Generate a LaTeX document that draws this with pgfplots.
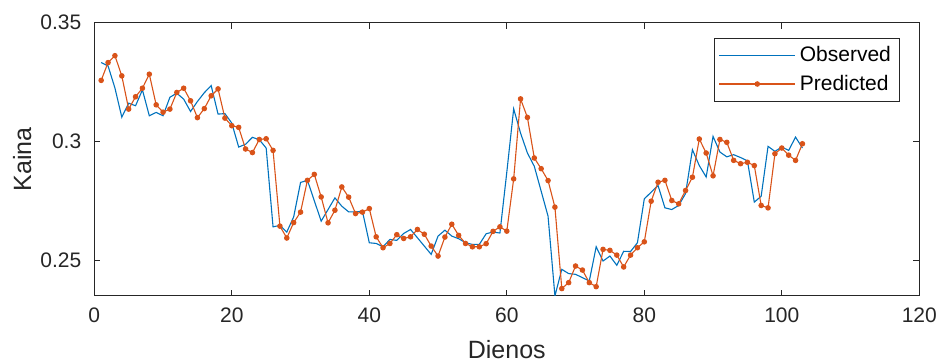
\documentclass[border=0pt]{standalone}
\usepackage{fontspec}
\setmainfont{Liberation Sans}
\usepackage{pgfplots}
\pgfplotsset{compat=1.18}
\usepackage{pgfplotstable}
\usetikzlibrary{calc}
\definecolor{mblue}{rgb}{0,0.447,0.741}
\definecolor{morange}{rgb}{0.85,0.325,0.098}
\definecolor{axgray}{rgb}{0.15,0.15,0.15}

\pgfplotstableread{
x obs pred
1 0.3332 0.3257
2 0.3318 0.3332
3 0.3225 0.3361
4 0.3102 0.3276
5 0.3161 0.3136
6 0.3150 0.3188
7 0.3217 0.3224
8 0.3108 0.3283
9 0.3122 0.3154
10 0.3108 0.3123
11 0.3186 0.3136
12 0.3203 0.3206
13 0.3178 0.3224
14 0.3126 0.3171
15 0.3168 0.3100
16 0.3205 0.3138
17 0.3235 0.3192
18 0.3115 0.3221
19 0.3117 0.3098
20 0.3077 0.3066
21 0.2976 0.3059
22 0.2988 0.2968
23 0.3017 0.2953
24 0.3007 0.3008
25 0.2972 0.3011
26 0.2640 0.2962
27 0.2646 0.2643
28 0.2618 0.2593
29 0.2682 0.2658
30 0.2827 0.2702
31 0.2836 0.2836
32 0.2750 0.2861
33 0.2664 0.2766
34 0.2713 0.2657
35 0.2762 0.2710
36 0.2727 0.2808
37 0.2703 0.2765
38 0.2703 0.2696
39 0.2706 0.2702
40 0.2573 0.2717
41 0.2570 0.2598
42 0.2556 0.2552
43 0.2587 0.2570
44 0.2583 0.2607
45 0.2612 0.2591
46 0.2629 0.2598
47 0.2594 0.2629
48 0.2559 0.2609
49 0.2524 0.2559
50 0.2601 0.2517
51 0.2626 0.2597
52 0.2601 0.2651
53 0.2590 0.2604
54 0.2573 0.2570
55 0.2566 0.2556
56 0.2566 0.2556
57 0.2611 0.2569
58 0.2618 0.2621
59 0.2614 0.2640
60 0.2870 0.2622
61 0.3137 0.2842
62 0.3035 0.3179
63 0.2951 0.3101
64 0.2895 0.2930
65 0.2790 0.2885
66 0.2685 0.2835
67 0.2349 0.2723
68 0.2461 0.2380
69 0.2443 0.2405
70 0.2440 0.2475
71 0.2426 0.2458
72 0.2412 0.2405
73 0.2556 0.2388
74 0.2496 0.2545
75 0.2517 0.2541
76 0.2478 0.2521
77 0.2537 0.2471
78 0.2536 0.2521
79 0.2573 0.2552
80 0.2758 0.2577
81 0.2786 0.2748
82 0.2814 0.2828
83 0.2720 0.2836
84 0.2713 0.2751
85 0.2730 0.2737
86 0.2780 0.2793
87 0.2965 0.2849
88 0.2898 0.3010
89 0.2850 0.2951
90 0.3021 0.2855
91 0.2955 0.3008
92 0.2935 0.2996
93 0.2944 0.2920
94 0.2932 0.2906
95 0.2918 0.2912
96 0.2744 0.2898
97 0.2769 0.2730
98 0.2979 0.2720
99 0.2958 0.2948
100 0.2976 0.2972
101 0.2962 0.2942
102 0.3018 0.2920
103 0.2972 0.2990
}\datatable

\begin{document}
\begin{tikzpicture}
\begin{axis}[
  name=ax,
  scale only axis,
  width=412.5pt, height=136.5pt,
  xmin=0, xmax=120, ymin=0.235, ymax=0.35,
  xtick={0,20,...,120},
  ytick={0.25,0.3,0.35},
  yticklabels={0.25,0.3,0.35},
  tick align=inside,
  major tick length=3pt,
  axis line style={axgray, line width=0.4pt},
  tick style={axgray, line width=0.4pt},
  ticklabel style={font=\fontsize{10.5}{12}\selectfont, text=axgray},
  xticklabel style={yshift=-2.5pt},
  yticklabel style={xshift=-3pt},
  /pgf/number format/assume math mode=true,
  xlabel={Dienos}, ylabel={Kaina},
  label style={font=\fontsize{12.5}{14}\selectfont, text=axgray},
  xlabel style={at={(axis description cs:0.5,0)}, anchor=center, yshift=-27pt},
  ylabel style={at={(axis description cs:0,0.5)}, anchor=center, xshift=0pt, yshift=36pt},
  legend cell align=left,
  legend style={at={($(rel axis cs:1,1)+(-10pt,-7.8pt)$)}, anchor=north east,
    draw=axgray, line width=0.4pt, font=\fontsize{10.5}{12}\selectfont, text=black,
    inner sep=2pt, row sep=1pt},
  legend image code/.code={\draw[mark repeat=2,mark phase=2] plot coordinates {(0pt,0pt) (19pt,0pt) (38pt,0pt)};},
]
\addplot[mblue, line width=0.55pt, no markers] table[x=x,y=obs]{\datatable};
\addlegendentry{Observed}
\addplot[morange, line width=0.55pt, mark=*, mark size=1.1pt, mark options={fill=morange, draw=morange}] table[x=x,y=pred]{\datatable};
\addlegendentry{Predicted}
\end{axis}
\pgfresetboundingbox
\path ($(ax.south west)+(-47.15pt,-32.65pt)$) rectangle ($(ax.north east)+(9.85pt,11.35pt)$);
\end{tikzpicture}
\end{document}
